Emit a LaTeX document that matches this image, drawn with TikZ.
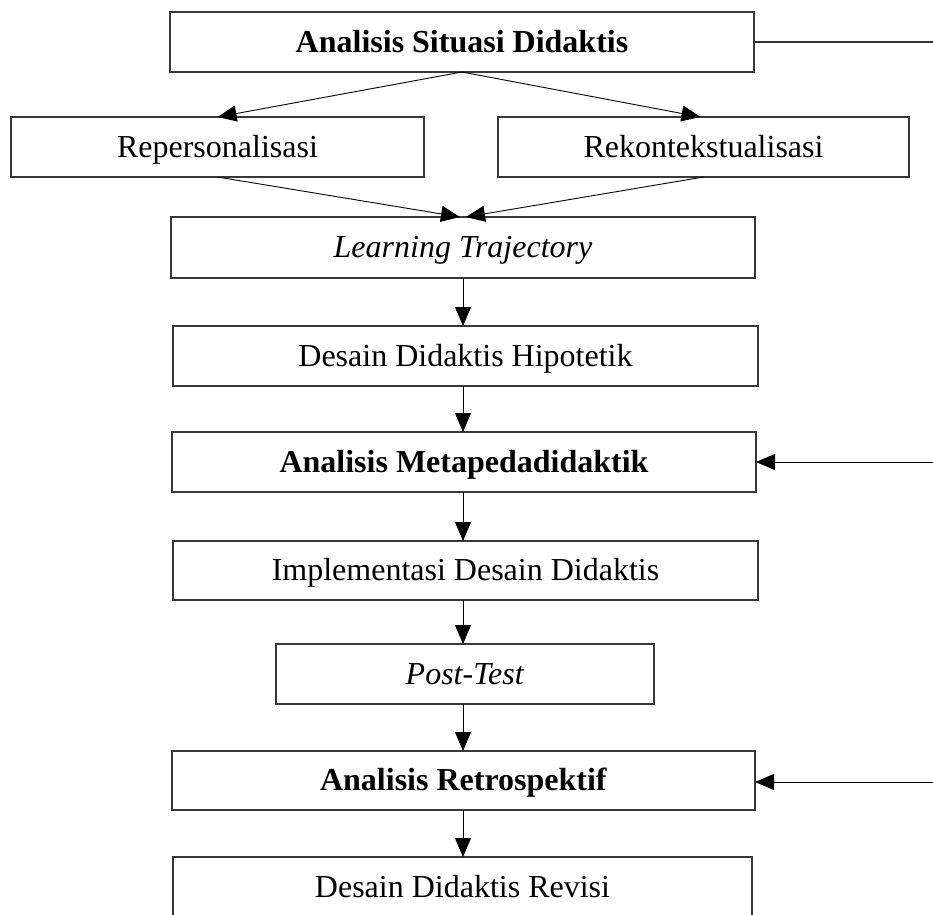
\documentclass[tikz,border=0pt]{standalone}
\usepackage{fontspec}
\setmainfont{Liberation Serif}
\usetikzlibrary{arrows.meta}
\begin{document}
\begin{tikzpicture}[x=1pt,y=-1pt,
  box/.style={draw=black!78,line width=1.1pt,rectangle,inner sep=0pt,outer sep=0pt,
    text height=24pt,text depth=4pt,
    font=\fontsize{32}{38}\selectfont,text=black},
  arr/.style={draw=black,line width=0.9pt,-{Triangle[length=19pt,width=16pt]}},
  ln/.style={draw=black!80,line width=1.1pt}]
\useasboundingbox (0,0) rectangle (933,914);
\node[box,minimum width=584pt,minimum height=60pt] (asd) at (462,42) {\textbf{Analisis Situasi Didaktis}};
\node[box,minimum width=413pt,minimum height=60pt] (rep) at (217.5,147) {Repersonalisasi};
\node[box,minimum width=411pt,minimum height=60pt] (rek) at (703.5,147) {Rekontekstualisasi};
\node[box,minimum width=584pt,minimum height=61pt] (lt) at (463,247.5) {\textit{Learning Trajectory}};
\node[box,minimum width=585pt,minimum height=60pt] (ddh) at (465.5,356) {Desain Didaktis Hipotetik};
\node[box,minimum width=584pt,minimum height=60pt] (am) at (464,462) {\textbf{Analisis Metapedadidaktik}};
\node[box,minimum width=585pt,minimum height=59pt] (idd) at (465.5,570.5) {Implementasi Desain Didaktis};
\node[box,minimum width=378pt,minimum height=60pt] (pt) at (465,674) {\textit{Post-Test}};
\node[box,minimum width=583pt,minimum height=59pt] (ar) at (463.5,780.5) {\textbf{Analisis Retrospektif}};
\node[box,minimum width=579pt,minimum height=60pt] (ddr) at (462.5,887) {Desain Didaktis Revisi};
\coordinate (e1) at (933,42);
\coordinate (e2) at (933,462);
\coordinate (e3) at (933,782);
\draw[ln] (asd.east) -- (e1);
\draw[arr] (e2) -- (am.east);
\draw[arr] (e3) -- (ar.east |- e3);
\draw[arr] (asd.south) -- (rep.north);
\draw[arr] (asd.south) -- ([xshift=-3pt]rek.north);
\draw[arr] (rep.south) -- ([xshift=-3pt]lt.north);
\draw[arr] (rek.south) -- ([xshift=3pt]lt.north);
\draw[arr] (lt.south) -- (lt.south |- ddh.north);
\draw[arr] (ddh.south -| lt.south) -- (lt.south |- am.north);
\draw[arr] (am.south -| lt.south) -- (lt.south |- idd.north);
\draw[arr] (idd.south -| lt.south) -- (lt.south |- pt.north);
\draw[arr] (pt.south -| lt.south) -- (lt.south |- ar.north);
\draw[arr] (ar.south -| lt.south) -- (lt.south |- ddr.north);
\end{tikzpicture}
\end{document}
